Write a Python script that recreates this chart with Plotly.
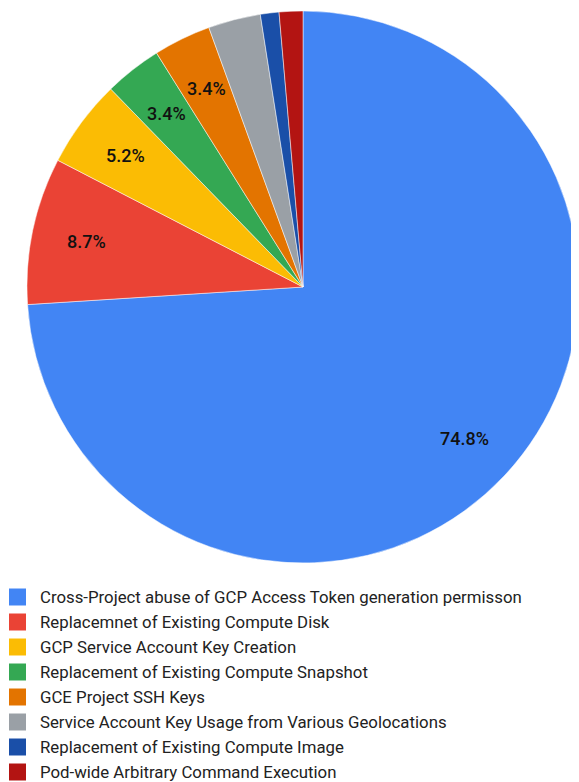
import math
import plotly.graph_objects as go

categories = [
    "Cross-Project abuse of GCP Access Token generation permisson",
    "Replacemnet of Existing Compute Disk",
    "GCP Service Account Key Creation",
    "Replacement of Existing Compute Snapshot",
    "GCE Project SSH Keys",
    "Service Account Key Usage from Various Geolocations",
    "Replacement of Existing Compute Image",
    "Pod-wide Arbitrary Command Execution",
]
values = [74.8, 8.7, 5.2, 3.4, 3.4, 3.1, 1.1, 1.4]
slice_labels = ["74.8%", "8.7%", "5.2%", "3.4%", "3.4%", "", "", ""]
colors = ["#4285F4", "#EA4335", "#FBBC04", "#34A853", "#E37400", "#9AA0A6", "#1A4FA8", "#B31412"]

# page body has an 8px margin, so the figure is sized to fill the rest of the window
W, H = 571, 774
PIE_LEFT, PIE_TOP = 19, 1
dom_x = [PIE_LEFT / W, 1.0]
dom_y = [1 - (PIE_TOP + 556) / H, 1 - PIE_TOP / H]

fig = go.Figure(go.Pie(
    labels=categories,
    values=values,
    textinfo="none",
    sort=False,
    direction="clockwise",
    rotation=0,
    marker=dict(colors=colors, line=dict(color="white", width=0.5)),
    domain=dict(x=dom_x, y=dom_y),
    hoverinfo="label+percent",
    showlegend=False,
))

# slice labels placed along each slice's mid-angle (computed from the values)
cx = (dom_x[0] + dom_x[1]) / 2 * W
cy = (1 - (dom_y[0] + dom_y[1]) / 2) * H
R = min((dom_x[1] - dom_x[0]) * W, (dom_y[1] - dom_y[0]) * H) / 2
total = sum(values)
cum = 0.0
for v, t in zip(values, slice_labels):
    mid = (cum + v / 2) / total * 2 * math.pi
    cum += v
    if not t:
        continue
    rf = 0.80
    px = cx + rf * R * math.sin(mid)
    py = cy - rf * R * math.cos(mid)
    fig.add_annotation(x=px / W, y=1 - py / H, xref="paper", yref="paper",
                       xanchor="center", yanchor="middle",
                       text=t, showarrow=False,
                       font=dict(family="Roboto", size=18, color="#111111", weight=500))

# legend below the pie: colour squares + category names
LEG_TOP, LEG_STEP, SQ = 589, 25, 17
for i, (name, col) in enumerate(zip(categories, colors)):
    yc = LEG_TOP + i * LEG_STEP
    fig.add_shape(type="rect", xref="paper", yref="paper",
                  x0=1 / W, x1=(1 + SQ) / W,
                  y0=1 - (yc + SQ / 2) / H, y1=1 - (yc - SQ / 2) / H,
                  fillcolor=col, line=dict(width=0))
    fig.add_annotation(x=30 / W, y=1 - yc / H, xref="paper", yref="paper",
                       xanchor="left", yanchor="middle", showarrow=False,
                       text=name, font=dict(family="Roboto", size=16.8, color="#222222"))

fig.update_layout(
    width=W, height=H,
    margin=dict(l=0, r=0, t=0, b=0),
    paper_bgcolor="white",
    font=dict(family="Roboto", size=17, color="#222222"),
    showlegend=False,
)
fig.write_html("out.html")
